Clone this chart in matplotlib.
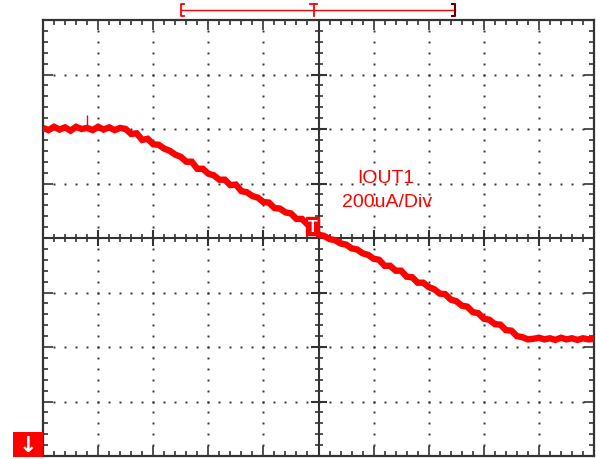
import numpy as np
import matplotlib
matplotlib.use('Agg')
import matplotlib.pyplot as plt
from matplotlib.patches import Rectangle

plt.rcParams['font.family'] = ['Liberation Sans', 'DejaVu Sans']

# --- scope trace (divisions: x 0..10, y -4..4) ---
trace_x = [0.00, 0.10, 0.20, 0.30, 0.40, 0.50, 0.60, 0.70, 0.80, 0.90,
           1.00, 1.10, 1.20, 1.30, 1.40, 1.50, 1.60, 1.70, 1.80, 1.90, 2.00, 2.10,
           2.20, 2.30, 2.40, 2.50, 2.60, 2.70, 2.80, 2.90, 3.00, 3.10, 3.20, 3.30,
           3.40, 3.50, 3.60, 3.70, 3.80, 3.90, 4.00, 4.10, 4.20, 4.30, 4.40, 4.50,
           4.60, 4.70, 4.80, 4.90, 5.00, 5.10, 5.20, 5.30, 5.40, 5.50, 5.60, 5.70,
           5.80, 5.90, 6.00, 6.10, 6.20, 6.30, 6.40, 6.50, 6.60, 6.70, 6.80, 6.90,
           7.00, 7.10, 7.20, 7.30, 7.40, 7.50, 7.60, 7.70, 7.80, 7.90, 8.00, 8.10,
           8.20, 8.30, 8.40, 8.50, 8.60, 8.70, 8.80, 8.90, 9.00, 9.10, 9.20, 9.30,
           9.40, 9.50, 9.60, 9.70, 9.80, 9.90, 10.0]
trace_y = [2.02, 1.98, 2.04, 1.99, 2.03, 1.97, 2.04, 2.00, 2.02, 1.98,
           2.04, 1.99, 2.03, 1.98, 2.02, 2.00, 1.91, 1.92, 1.80, 1.82, 1.72, 1.71,
           1.64, 1.60, 1.53, 1.49, 1.40, 1.40, 1.27, 1.27, 1.18, 1.15, 1.07, 1.07,
           0.97, 0.98, 0.86, 0.84, 0.77, 0.74, 0.66, 0.65, 0.55, 0.54, 0.47, 0.45,
           0.35, 0.35, 0.25, 0.20, 0.06, 0.04, -0.02, -0.04, -0.10, -0.12, -0.19, -0.21,
           -0.28, -0.31, -0.38, -0.40, -0.51, -0.51, -0.60, -0.60, -0.71, -0.72, -0.82, -0.82,
           -0.90, -0.94, -1.02, -1.03, -1.13, -1.16, -1.24, -1.26, -1.36, -1.38, -1.48, -1.50,
           -1.58, -1.59, -1.69, -1.70, -1.80, -1.82, -1.86, -1.85, -1.83, -1.86, -1.84, -1.87,
           -1.83, -1.86, -1.84, -1.87, -1.84, -1.86, -1.85]
spike_x = 0.80
spike_y = 2.25

label_lines = ['IOUT1', '200uA/Div']
RED = '#ff0000'
DARK = '#333333'

fig = plt.figure(figsize=(5.96, 4.60), dpi=100)
ax = fig.add_axes([43 / 596, 3 / 460, 551 / 596, 436 / 460])
ax.set_xlim(0, 10)
ax.set_ylim(-4, 4)

# 枠と目盛り
for s in ax.spines.values():
    s.set_color(DARK)
    s.set_linewidth(1.6)
ax.set_xticks(np.arange(0, 11, 1))
ax.set_yticks(np.arange(-4, 5, 1))
ax.set_xticks(np.arange(0, 10.01, 0.2), minor=True)
ax.set_yticks(np.arange(-4, 4.01, 0.2), minor=True)
ax.tick_params(which='both', direction='in', top=True, right=True,
               labelbottom=False, labelleft=False, color=DARK, width=1.2)
ax.tick_params(which='major', length=7)
ax.tick_params(which='minor', length=3.6)

# 点線グリッド
minor_x = np.arange(0.2, 10, 0.2)
minor_y = np.arange(-3.8, 4, 0.2)
for gy in [-3, -2, -1, 1, 2, 3]:
    ax.plot(minor_x, np.full_like(minor_x, gy), ls='none', marker='s',
            ms=1.4, mew=0, color='#333333')
for gx in [1, 2, 3, 4, 6, 7, 8, 9]:
    ax.plot(np.full_like(minor_y, gx), minor_y, ls='none', marker='s',
            ms=1.4, mew=0, color='#333333')

# 中心軸
ax.axhline(0, color=DARK, lw=1.5)
ax.axvline(5, color=DARK, lw=1.5)
ax.plot(minor_x, np.zeros_like(minor_x), ls='none', marker='|', ms=6, mew=1.2, color=DARK)
ax.plot(np.full_like(minor_y, 5), minor_y, ls='none', marker='_', ms=6, mew=1.2, color=DARK)
ax.plot(np.arange(1, 10), np.zeros(9), ls='none', marker='|', ms=11, mew=1.5, color=DARK)
ax.plot(np.full(7, 5), np.arange(-3, 4), ls='none', marker='_', ms=11, mew=1.5, color=DARK)

# 波形 (ノイズ幅を太い線で表現)
ax.plot(trace_x, trace_y, color=RED, lw=4.6, solid_joinstyle='miter',
        solid_capstyle='butt', zorder=5)
ax.vlines(spike_x, 2.0, spike_y, color=RED, lw=1.0, zorder=5)

# トリガマーカー
ax.text(4.89, 0.22, 'T', color='white', fontsize=11.5, fontweight='bold',
        ha='center', va='center', zorder=6,
        bbox=dict(boxstyle='square,pad=0.12', fc=RED, ec=RED))

# ラベル
ax.text(6.22, 1.03, label_lines[0], color=RED, fontsize=14, ha='center', va='baseline')
ax.text(6.25, 0.59, label_lines[1], color=RED, fontsize=14, ha='center', va='baseline')

# 上部のタイムベースブラケット
yb, yt, ym = 4.066, 4.286, 4.176
ax.plot([2.50, 7.48], [ym, ym], color=RED, lw=1.0, clip_on=False)
ax.plot([2.56, 2.50, 2.50, 2.56], [yt, yt, yb, yb], color=RED, lw=1.3, clip_on=False)
ax.plot([7.42, 7.48, 7.48, 7.42], [yt, yt, yb, yb], color='#660000', lw=1.5, clip_on=False)
ax.plot([4.84, 4.98], [yt, yt], color=RED, lw=1.3, clip_on=False)
ax.plot([4.91, 4.91], [yt, yb], color=RED, lw=1.3, clip_on=False)

# グランドマーカー
fig.add_artist(Rectangle((13 / 596, 2 / 460), 30 / 596, 25 / 460,
                         transform=fig.transFigure, fc=RED, ec='none'))
fig.text(28 / 596, 14.5 / 460, '↓', color='white', fontsize=16, fontweight='bold',
         ha='center', va='center', family='DejaVu Sans')

fig.savefig('out.png', dpi=100)
